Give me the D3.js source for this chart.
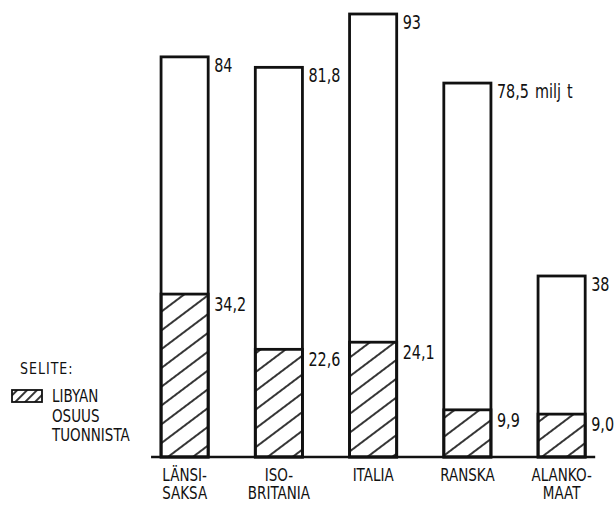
<!DOCTYPE html>
<html>
<head>
<meta charset="utf-8">
<script src="https://cdn.jsdelivr.net/npm/d3@7"></script>
<style>
  body { margin: 0; background: #fff; }
  svg { display: block; }
  text { font-family: "DejaVu Sans Condensed", "DejaVu Sans", sans-serif; fill: #111; }
</style>
</head>
<body>
<svg width="616" height="506"></svg>
<script>
// data
var countries = ["Länsi-Saksa", "Iso-Britannia", "Italia", "Ranska", "Alankomaat"];
var countryLines = [["LÄNSI-", "SAKSA"], ["ISO-", "BRITANIA"], ["ITALIA"], ["RANSKA"], ["ALANKO-", "MAAT"]];
var totalImport = [84, 81.8, 93, 78.5, 38];        // milj t
var libyaShare = [34.2, 22.6, 24.1, 9.9, 9.0];     // milj t
var totalLabels = ["84", "81,8", "93", "78,5 milj t", "38"];
var libyaLabels = ["34,2", "22,6", "24,1", "9,9", "9,0"];
var legendTitle = "SELITE:";
var legendLines = ["LIBYAN", "OSUUS", "TUONNISTA"];

var svg = d3.select("svg");
var baseY = 457;

var x = d3.scaleBand()
    .domain(countries)
    .range([137.5, 608.75])
    .paddingInner(0.5)
    .paddingOuter(0.25);

var y = d3.scaleLinear()
    .domain([0, 93])
    .range([baseY, 14]);

var data = countries.map(function(c, i) {
  return {name: c, total: totalImport[i], libya: libyaShare[i],
          tLabel: totalLabels[i], lLabel: libyaLabels[i], lines: countryLines[i]};
});

// the original lettering is tall and narrow, so stretch text vertically
function tall(px, py, sy) {
  return "translate(" + px + "," + py + ") scale(1," + sy + ")";
}

// hatch patterns
var defs = svg.append("defs");
defs.append("pattern")
    .attr("id", "hatch")
    .attr("patternUnits", "userSpaceOnUse")
    .attr("width", 20).attr("height", 15)
    .attr("patternTransform", "rotate(-37)")
  .append("line")
    .attr("x1", 0).attr("y1", 1).attr("x2", 20).attr("y2", 1)
    .attr("stroke", "#111").attr("stroke-width", 1.7);

defs.append("pattern")
    .attr("id", "hatchSmall")
    .attr("patternUnits", "userSpaceOnUse")
    .attr("width", 10).attr("height", 7)
    .attr("patternTransform", "rotate(-45)")
  .append("line")
    .attr("x1", 0).attr("y1", 1).attr("x2", 10).attr("y2", 1)
    .attr("stroke", "#111").attr("stroke-width", 1.7);

var g = svg.append("g");

// total bars (white)
g.selectAll(".bar-total")
  .data(data)
  .enter().append("rect")
    .attr("class", "bar-total")
    .attr("x", d => x(d.name))
    .attr("y", d => y(d.total))
    .attr("width", x.bandwidth())
    .attr("height", d => baseY - y(d.total))
    .attr("fill", "#fff")
    .attr("stroke", "#111")
    .attr("stroke-width", 2.8);

// libya share (hatched)
g.selectAll(".bar-libya")
  .data(data)
  .enter().append("rect")
    .attr("class", "bar-libya")
    .attr("x", d => x(d.name))
    .attr("y", d => y(d.libya))
    .attr("width", x.bandwidth())
    .attr("height", d => baseY - y(d.libya))
    .attr("fill", "url(#hatch)")
    .attr("stroke", "#111")
    .attr("stroke-width", 2.8);

// baseline
g.append("line")
    .attr("x1", x(countries[0]) - 10)
    .attr("x2", x(countries[countries.length - 1]) + x.bandwidth() + 10)
    .attr("y1", baseY).attr("y2", baseY)
    .attr("stroke", "#111")
    .attr("stroke-width", 2.4);

// value labels
g.selectAll(".lab-total")
  .data(data)
  .enter().append("text")
    .attr("class", "lab-total")
    .attr("transform", d => tall(x(d.name) + x.bandwidth() + 6, y(d.total) + 15, 1.22))
    .style("font-size", "16px")
    .style("word-spacing", "1.5px")
    .text(d => d.tLabel);

g.selectAll(".lab-libya")
  .data(data)
  .enter().append("text")
    .attr("class", "lab-libya")
    .attr("transform", d => tall(x(d.name) + x.bandwidth() + 6, y(d.libya) + 17, 1.22))
    .style("font-size", "16px")
    .text(d => d.lLabel);

// category labels, one text per line
data.forEach(function(d) {
  d.lines.forEach(function(line, i) {
    g.append("text")
      .attr("class", "cat")
      .attr("text-anchor", "middle")
      .attr("transform", tall(x(d.name) + x.bandwidth() / 2, 481 + i * 18.2, 1.15))
      .style("font-size", "15px")
      .text(line);
  });
});

// legend
var legend = svg.append("g");
legend.append("text")
    .attr("transform", tall(20, 374, 1.12))
    .style("font-size", "14px")
    .style("letter-spacing", "1px")
    .text(legendTitle);

legend.append("rect")
    .attr("x", 12).attr("y", 390)
    .attr("width", 30).attr("height", 12)
    .attr("fill", "url(#hatchSmall)")
    .attr("stroke", "#111")
    .attr("stroke-width", 1.8);

legend.selectAll(".leg-line")
  .data(legendLines)
  .enter().append("text")
    .attr("class", "leg-line")
    .attr("transform", (d, i) => tall(52, 402 + i * 19.5, 1.12))
    .style("font-size", "15px")
    .text(d => d);
</script>
</body>
</html>
